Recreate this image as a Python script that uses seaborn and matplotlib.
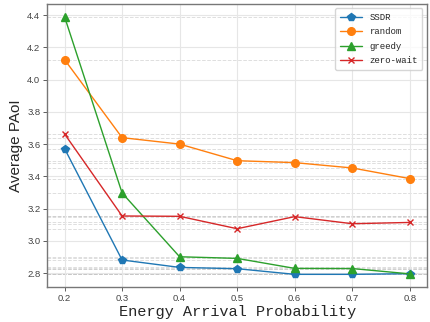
import matplotlib
matplotlib.use("Agg")
import matplotlib.pyplot as plt
import seaborn as sns
import pandas as pd

probs = [0.2, 0.3, 0.4, 0.5, 0.6, 0.7, 0.8]
ssdr = [3.572, 2.881, 2.835, 2.827, 2.792, 2.792, 2.796]
random_ = [4.124, 3.640, 3.600, 3.497, 3.485, 3.452, 3.386]
greedy = [4.390, 3.297, 2.901, 2.891, 2.829, 2.828, 2.795]
zero_wait = [3.663, 3.154, 3.152, 3.075, 3.150, 3.106, 3.114]

series = {"SSDR": ssdr, "random": random_, "greedy": greedy, "zero-wait": zero_wait}
markers = {"SSDR": "p", "random": "o", "greedy": "^", "zero-wait": "x"}
colors = {"SSDR": "#1f77b4", "random": "#ff7f0e", "greedy": "#2ca02c", "zero-wait": "#d62728"}

rows = []
for name, vals in series.items():
    for p, v in zip(probs, vals):
        rows.append({"prob": p, "paoi": v, "method": name})
df = pd.DataFrame(rows)

sns.set_style("whitegrid")
mono = ["Liberation Mono", "DejaVu Sans Mono"]

fig, ax = plt.subplots(figsize=(4.3, 3.22), dpi=100)

# dashed guide line at every data value
for v in df["paoi"]:
    ax.axhline(v, color="#c4c4c4", linestyle="--", linewidth=0.7, alpha=0.55, zorder=0)

for name in series:
    sub = df[df["method"] == name]
    sns.lineplot(x="prob", y="paoi", data=sub, ax=ax, label=name,
                 marker=markers[name], color=colors[name],
                 markersize=5.5 if name != "zero-wait" else 5,
                 linewidth=1.0, markeredgecolor=colors[name], markeredgewidth=1.0)

ax.set_xticks(probs)
ax.set_xticklabels([f"{p:.1f}" for p in probs])
ax.set_xlabel("Energy Arrival Probability", fontsize=11, family=mono, labelpad=1)
ax.set_ylabel("Average PAoI", fontsize=11, family=["Liberation Sans", "DejaVu Sans"], labelpad=3)
ax.tick_params(axis="both", labelsize=6.8, colors="#444444", length=3, width=0.6,
               direction="out", bottom=True, left=True, pad=2)
for lbl in ax.get_xticklabels() + ax.get_yticklabels():
    lbl.set_family(["Liberation Sans Narrow", "Liberation Sans", "DejaVu Sans"])
ax.grid(True, color="#e6e6e6", linewidth=0.8)
for s in ax.spines.values():
    s.set_color("#777777")
    s.set_linewidth(1.0)

leg = ax.legend(loc="upper right", prop={"family": mono, "size": 6.5}, frameon=True,
                handlelength=2.5, borderpad=0.5, labelspacing=0.6)
leg.get_frame().set_edgecolor("#cccccc")

fig.subplots_adjust(left=0.11, right=0.993, top=0.988, bottom=0.108)
fig.savefig("out.png", dpi=100)
